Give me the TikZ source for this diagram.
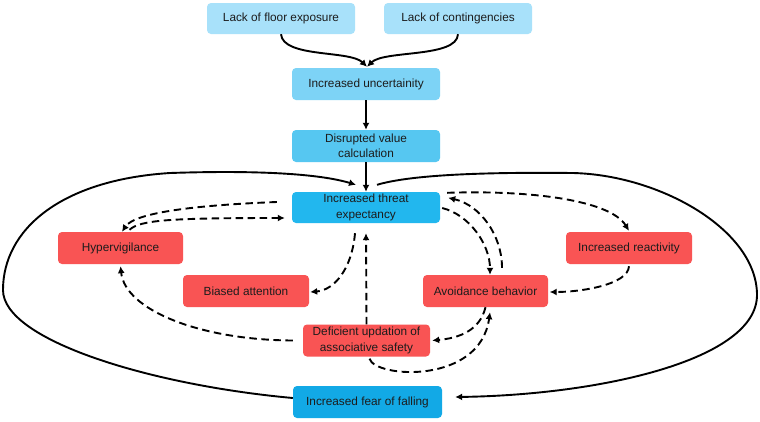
\documentclass[tikz,border=0pt]{standalone}
\usepackage{fontspec}
\setmainfont{Liberation Sans}
\usetikzlibrary{arrows.meta}
\definecolor{cTop}{HTML}{A8E1FA}
\definecolor{cUnc}{HTML}{7DD3F6}
\definecolor{cDis}{HTML}{56C7F1}
\definecolor{cThr}{HTML}{22B7EE}
\definecolor{cFear}{HTML}{12A9E6}
\definecolor{cRed}{HTML}{F95454}
\definecolor{cTxt}{HTML}{1C1C1C}
\tikzset{
  box/.style={rounded corners=4pt, inner sep=0pt, align=center, text=cTxt,
    font=\fontsize{11.8}{15.5}\selectfont},
  wide/.style={box, minimum width=148pt, minimum height=32pt},
  redbox/.style={box, fill=cRed, minimum width=126pt, minimum height=32pt},
  solidarr/.style={line width=1.9pt, -{Latex[length=7pt,width=7pt]}},
  dasharr/.style={line width=1.9pt, dash pattern=on 7.5pt off 4.5pt, -{Latex[length=7pt,width=7pt]}}
}
\begin{document}
\begin{tikzpicture}[x=1pt,y=-1pt]
\useasboundingbox[fill=white] (0,0) rectangle (760,421);
% nodes
\node[wide, fill=cTop, minimum height=31pt] (floor) at (281,18.5) {Lack of floor exposure};
\node[wide, fill=cTop, minimum height=31pt] (cont) at (458,18.5) {Lack of contingencies};
\node[wide, fill=cUnc] (unc) at (366,84) {Increased uncertainity};
\node[wide, fill=cDis] (dis) at (366,146) {Disrupted value\\calculation};
\node[wide, fill=cThr, minimum height=31pt] (thr) at (366,207.5) {Increased threat\\expectancy};
\node[redbox, minimum width=125pt] (hyp) at (120.5,248) {Hypervigilance};
\node[redbox] (bia) at (246,291) {Biased attention};
\node[redbox, minimum width=125pt] (avo) at (485.5,291) {Avoidance behavior};
\node[redbox] (rea) at (629,248) {Increased reactivity};
\node[redbox, minimum width=127pt] (def) at (366.5,340.5) {Deficient updation of\\associative safety};
\node[wide, fill=cFear, minimum width=149pt] (fear) at (367.5,402) {Increased fear of falling};
% solid connectors
\draw[solidarr] (floor.south) .. controls (283,58) and (350,50) .. ([xshift=1pt,yshift=1pt]unc.north);
\draw[solidarr] (cont.south) .. controls (457,58) and (384,50) .. ([xshift=1pt,yshift=1pt]unc.north);
\draw[solidarr] (unc.south) -- (dis.north);
\draw[solidarr] (dis.south) -- (thr.north);
% left loop
\draw[solidarr] ([yshift=4pt]fear.west) .. controls (150,385) and (3,340) .. (3,290)
  .. controls (3,230) and (60,180) .. (170,173)
  .. controls (260,170) and (320,174) .. ([xshift=-10pt,yshift=7pt]thr.north);
% right loop
\draw[solidarr] ([xshift=11pt,yshift=7pt]thr.north) .. controls (410,175) and (480,172) .. (573,173)
  .. controls (660,175) and (757,230) .. (757,295)
  .. controls (757,360) and (600,395) .. ([xshift=13pt,yshift=5pt]fear.east);
% dashed connectors
\draw[dasharr] ([xshift=-15pt,yshift=5.5pt]thr.west) .. controls (200,205) and (135,212) .. ([xshift=1.5pt]hyp.north);
\draw[dasharr] ([xshift=9pt,yshift=2pt]hyp.north) .. controls (140,220) and (170,218) .. ([xshift=-7pt,yshift=-10.5pt]thr.west);
\draw[dasharr] ([xshift=-11pt,yshift=-10pt]thr.south) .. controls (352,268) and (335,290) .. ([xshift=1pt,yshift=-1pt]bia.east);
\draw[dasharr] (def.north) -- ([yshift=-10pt]thr.south);
\draw[dasharr] ([xshift=-10pt]def.west) .. controls (200,340) and (125,310) .. ([yshift=-2pt]hyp.south);
\draw[dasharr] ([xshift=3pt,yshift=-2pt]def.south) .. controls (375,378) and (480,385) .. ([xshift=4.5pt,yshift=-5pt]avo.south);
\draw[dasharr] (avo.south) .. controls (480,330) and (460,338) .. ([xshift=2pt]def.east);
\draw[dasharr] ([xshift=2pt,yshift=-0.5pt]thr.east) .. controls (470,215) and (490,245) .. ([xshift=4.5pt]avo.north);
\draw[dasharr] ([xshift=16.5pt,yshift=7pt]avo.north) .. controls (502,235) and (480,205) .. ([xshift=8pt,yshift=-6pt]thr.north east);
\draw[dasharr] ([xshift=7pt,yshift=-1pt]thr.north east) .. controls (530,190) and (610,200) .. ([yshift=1pt]rea.north);
\draw[dasharr] ([yshift=-2pt]rea.south) .. controls (628,285) and (580,292) .. ([xshift=1.5pt,yshift=-1pt]avo.east);
\end{tikzpicture}
\end{document}
